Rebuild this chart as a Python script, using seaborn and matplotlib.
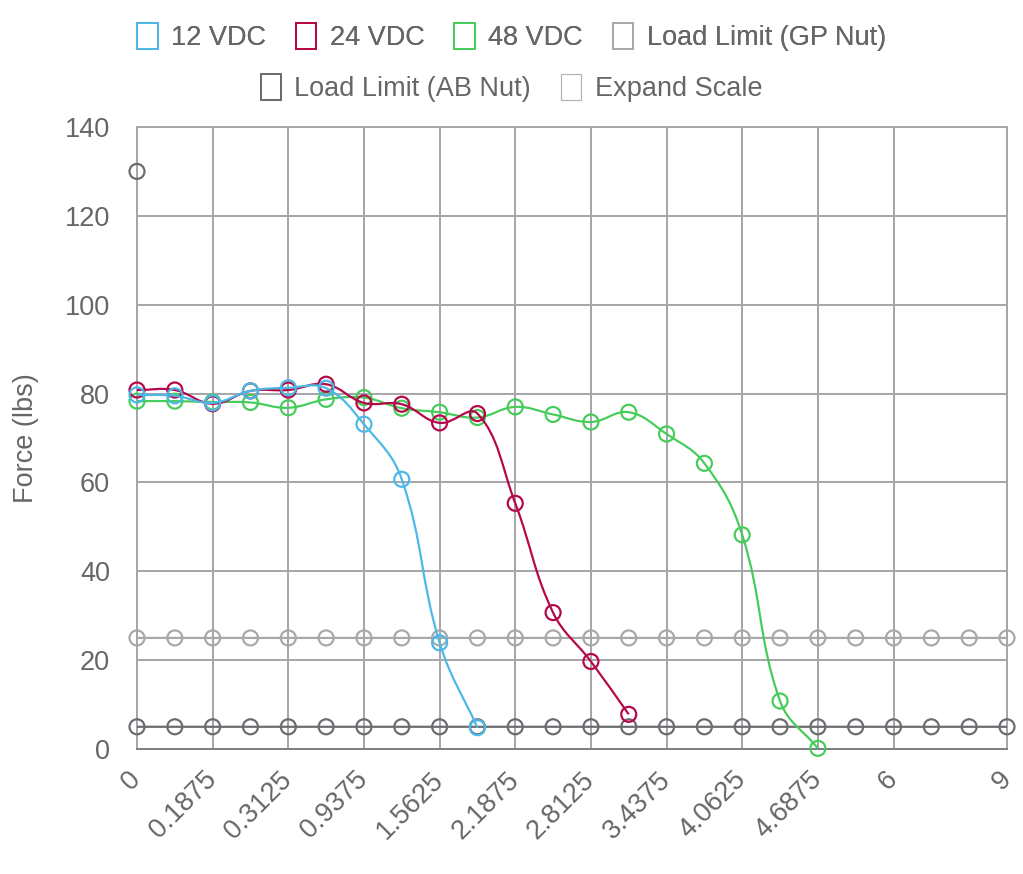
import numpy as np
import pandas as pd
import seaborn as sns
import matplotlib
matplotlib.use("Agg")
import matplotlib.pyplot as plt
from matplotlib.path import Path
from matplotlib.patches import PathPatch, Patch

# category axis (stroke, inches)
stroke = ['0', '0.0625', '0.1875', '0.25', '0.3125', '0.625', '0.9375', '1.25',
          '1.5625', '1.875', '2.1875', '2.5', '2.8125', '3.125', '3.4375', '3.75',
          '4.0625', '4.375', '4.6875', '5', '6', '7', '8', '9']
shown_ticks = [0, 2, 4, 6, 8, 10, 12, 14, 16, 18, 20, 23]

# force values (lbs)
vdc12 = [79.7, 79.5, 77.9, 80.6, 81.3, 81.2, 73.1, 60.7, 23.9, 4.8]
vdc24 = [80.8, 80.8, 77.7, 80.6, 80.8, 82.1, 77.9, 77.6, 73.4, 75.5, 55.3, 30.7, 19.7, 7.8]
vdc48 = [78.3, 78.3, 78.1, 78.0, 76.8, 78.7, 79.1, 76.7, 75.8, 74.6, 77.0, 75.3, 73.6,
         75.8, 70.9, 64.3, 48.2, 10.8, 0.15]
gp_nut = [25, 25, 25, 25, 25, 25, 25, 25, 25, 25, 25, 25,
          25, 25, 25, 25, 25, 25, 25, 25, 25, 25, 25, 25]
ab_nut = [5, 5, 5, 5, 5, 5, 5, 5, 5, 5, 5, 5,
          5, 5, 5, 5, 5, 5, 5, 5, 5, 5, 5, 5]
expand = [130]

names = ['12 VDC', '24 VDC', '48 VDC', 'Load Limit (GP Nut)', 'Load Limit (AB Nut)', 'Expand Scale']
values = [vdc12, vdc24, vdc48, gp_nut, ab_nut, expand]
colors = ['#4cb8e6', '#b5084a', '#46cc5a', '#a8a8ab', '#6b6b70', '#6b6b70']
legend_colors = ['#4cb8e6', '#b5084a', '#46cc5a', '#a8a8ab', '#6b6b70', '#b3b3b6']

rows = []
for name, vals in zip(names, values):
    for i, v in enumerate(vals):
        rows.append({'series': name, 'idx': i, 'force': v})
df = pd.DataFrame(rows)

sns.set_style("white")
plt.rcParams['font.family'] = ['Liberation Sans', 'DejaVu Sans']
text_c = '#666666'
grid_c = '#a6a6ab'
px = 0.72  # points per pixel at dpi 100
fs = 19.5

fig = plt.figure(figsize=(10.23, 8.74), dpi=100)
ax = fig.add_axes([137 / 1023, 125 / 874, 870 / 1023, 622 / 874])
ax.set_xlim(0, 23)
ax.set_ylim(0, 140)


def smooth_line(ax, xs, ys, color, z, tension=0.4):
    # chart.js style bezier through the points (in pixel space)
    pts = ax.transData.transform(np.column_stack([xs, ys]))
    n = len(pts)
    if n < 2:
        return
    cps = []
    for i in range(n):
        prev = pts[i - 1] if i > 0 else pts[i]
        cur = pts[i]
        nxt = pts[i + 1] if i < n - 1 else pts[i]
        d01 = np.hypot(*(cur - prev))
        d12 = np.hypot(*(nxt - cur))
        tot = d01 + d12
        s01 = d01 / tot if tot else 0
        s12 = d12 / tot if tot else 0
        cps.append((cur - tension * s01 * (nxt - prev), cur + tension * s12 * (nxt - prev)))
    verts = [pts[0]]
    codes = [Path.MOVETO]
    for i in range(1, n):
        verts += [cps[i - 1][1], cps[i][0], pts[i]]
        codes += [Path.CURVE4] * 3
    verts = ax.transData.inverted().transform(np.array(verts))
    verts[:, 1] = np.clip(verts[:, 1], 0, 140)
    patch = PathPatch(Path(verts, codes), facecolor='none', edgecolor=color,
                      lw=2.2 * px, zorder=z, transform=ax.transData)
    ax.add_patch(patch)


# chart.js draws the first dataset on top
for k, (name, vals, c) in enumerate(zip(names, values, colors)):
    z = 20 - 2 * k
    sub = df[df['series'] == name]
    smooth_line(ax, sub['idx'].values, sub['force'].values, c, z)
    sns.scatterplot(data=sub, x='idx', y='force', ax=ax, s=(15 * px) ** 2,
                    facecolor='none', edgecolor=c, linewidth=2.2 * px,
                    zorder=z + 1, legend=False, clip_on=False)

ax.set_xticks(shown_ticks)
ax.set_xticklabels([stroke[i] for i in shown_ticks], rotation=45, ha='right',
                   va='center', rotation_mode='anchor')
ax.set_yticks(range(0, 141, 20))
ax.grid(True, color=grid_c, lw=2 * px)
ax.set_axisbelow(True)
for s in ['left', 'right', 'top']:
    ax.spines[s].set_color(grid_c)
    ax.spines[s].set_linewidth(2 * px)
ax.spines['bottom'].set_color('#7d7d82')
ax.spines['bottom'].set_linewidth(2 * px)
ax.tick_params(axis='both', direction='out', length=24 * px, width=2 * px,
               color=grid_c, labelcolor=text_c, labelsize=fs, pad=2)
ax.set_xlabel('')
ax.set_ylabel('Force (lbs)', fontsize=fs, color=text_c)
ax.yaxis.set_label_coords(-0.113, 0.5)

handles = [Patch(facecolor='none', edgecolor=c, lw=2 * px) for c in legend_colors]
handles[5].set_linewidth(1.2 * px)
leg_kw = dict(loc='center', frameon=False, fontsize=fs, labelcolor=text_c,
              handlelength=0.75, handleheight=1.1, handletextpad=0.5,
              columnspacing=1.1, borderpad=0)
leg1 = fig.legend(handles[:4], names[:4], ncol=4, bbox_to_anchor=(0.5, 1 - 37 / 874), **leg_kw)
fig.add_artist(leg1)
fig.legend(handles[4:], names[4:], ncol=2, bbox_to_anchor=(0.5, 1 - 88 / 874), **leg_kw)

fig.savefig('out.png', dpi=100)
